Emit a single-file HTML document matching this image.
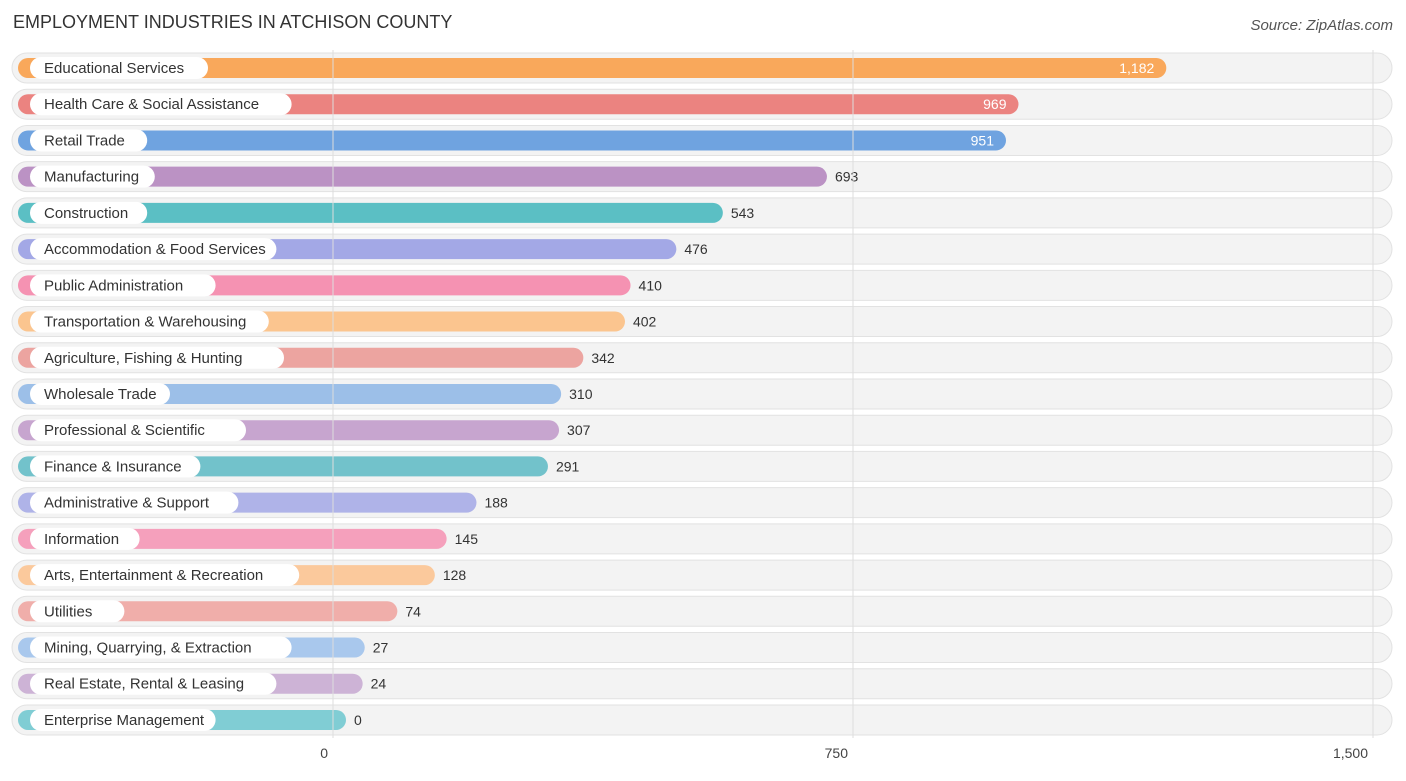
<!DOCTYPE html>
<html><head><meta charset="utf-8"><style>
body{margin:0;background:#fff;font-family:"Liberation Sans",sans-serif}
svg text{font-family:"Liberation Sans",sans-serif}
</style></head><body>
<svg id="chart" width="1406" height="776" xmlns="http://www.w3.org/2000/svg">
<text x="13" y="28" font-size="18" fill="#333">EMPLOYMENT INDUSTRIES IN ATCHISON COUNTY</text>
<text x="1393" y="30" font-size="15" fill="#555" font-style="italic" text-anchor="end">Source: ZipAtlas.com</text>
<g id="grid"></g><g id="rows"></g><g id="ticks"></g>
</svg>
<script>
const categories=["Educational Services","Health Care & Social Assistance","Retail Trade","Manufacturing","Construction","Accommodation & Food Services","Public Administration","Transportation & Warehousing","Agriculture, Fishing & Hunting","Wholesale Trade","Professional & Scientific","Finance & Insurance","Administrative & Support","Information","Arts, Entertainment & Recreation","Utilities","Mining, Quarrying, & Extraction","Real Estate, Rental & Leasing","Enterprise Management"];
const values=[1182,969,951,693,543,476,410,402,342,310,307,291,188,145,128,74,27,24,0];
const colors=["#f9a85b","#eb8380","#6fa3e0","#bb92c4","#5bbfc4","#a3a8e6","#f592b2","#fbc58f","#eca4a0","#9cbfe8","#c7a5cf","#72c2cb","#afb3e8","#f5a0bc","#fbc99c","#f0aeaa","#a9c8ed","#cdb3d6","#80cdd4"];
const tickValues=[0,750,1500];
const tickLabels=["0","750","1,500"];
const NS="http://www.w3.org/2000/svg";
function gx(v){return 333+v*520/750;}
function bx(v){return 346+v*0.694;}
function ry(i){return 68+i*36.22;}
function mk(tag,attrs,parent,txt){const e=document.createElementNS(NS,tag);for(const k in attrs)e.setAttribute(k,attrs[k]);if(txt!==undefined)e.textContent=txt;parent.appendChild(e);return e;}
const rows=document.getElementById('rows'),grid=document.getElementById('grid'),ticks=document.getElementById('ticks');
categories.forEach((c,i)=>{
 const y=ry(i);
 const t=mk('rect',{x:12,y:y-15,width:1380,height:30,rx:15,fill:'#f3f3f3',stroke:'#e2e2e2'},rows);
 
 
});
tickValues.forEach((v,i)=>{
 const l=mk('line',{x1:gx(v),x2:gx(v),y1:50,y2:738,stroke:'#dddddd','stroke-width':1},grid);
 
 
 const t=mk('text',{x:gx(v)-5,y:758,'font-size':14,fill:'#444','text-anchor':'end'},ticks,tickLabels[i]);
 
 
});
document.getElementById('chart').appendChild(grid.parentNode.removeChild(grid));
document.getElementById('chart').insertBefore(grid,rows.nextSibling);
categories.forEach((c,i)=>{
 const y=ry(i),end=bx(values[i]);
 const b=mk('rect',{x:18,y:y-10,width:end-18,height:20,rx:10,fill:colors[i]},rows);
 
 
 const w=c.length*7.6+26;
 const p=mk('rect',{x:30,y:y-11,width:w,height:22,rx:11,fill:'#fff'},rows);
 
 
 const lt=mk('text',{x:44,y:y+5,'font-size':15,fill:'#333'},rows,c);
 
 
 const inside=values[i]>900;
 const s=values[i].toLocaleString('en-US');
 const vt=mk('text',{x:inside?end-12:end+8,y:y+5,'font-size':14,fill:inside?'#fff':'#333','text-anchor':inside?'end':'start'},rows,s);
 
 
});
</script>
</body></html>
